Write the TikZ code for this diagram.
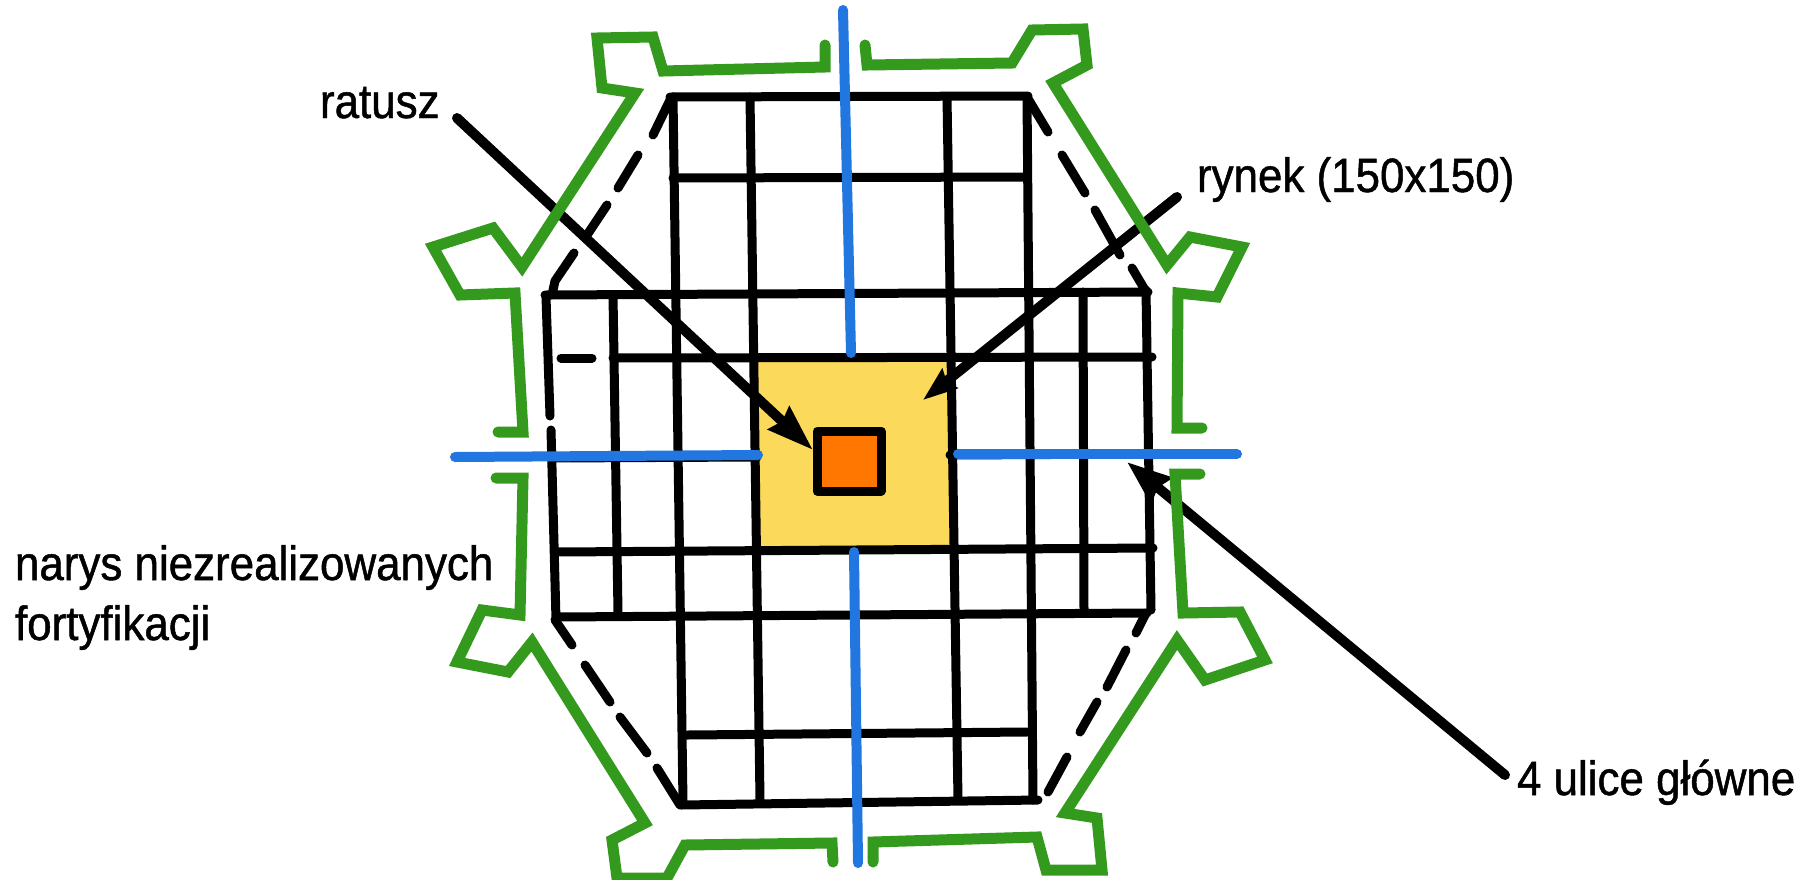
\documentclass[tikz,border=0pt]{standalone}
\usepackage{fontspec}
\setmainfont[FakeStretch=0.915,FakeBold=1]{Liberation Sans}
\usetikzlibrary{arrows.meta}
\definecolor{gr}{HTML}{339A1E}
\definecolor{bl}{HTML}{2176E0}
\definecolor{yl}{HTML}{FBD95B}
\definecolor{og}{HTML}{FF7700}
\tikzset{
  grid/.style={draw=black,line width=9pt,line cap=round,line join=round},
  dashline/.style={draw=black,line width=9pt,line cap=round,line join=round},
  wall/.style={draw=gr,line width=11pt,line cap=round,line join=miter},
  street/.style={draw=bl,line width=10pt,line cap=round},
  pointer/.style={draw=black,line width=10pt,line cap=round},
  lab/.style={font=\fontsize{48}{60}\selectfont,anchor=base west,inner sep=0pt,outer sep=0pt,text=black,align=left}
}
\begin{document}
\begin{tikzpicture}[x=1pt,y=-1pt]
\useasboundingbox (0,0) rectangle (1812,879);
\fill[white] (0,0) rectangle (1812,879);
% market square
\fill[yl] (755,358) -- (950,358) -- (955,548) -- (758,552) -- cycle;
% grid: long verticals
\draw[grid] (673,97) -- (683,803);
\draw[grid] (750,97) -- (760,800);
\draw[grid] (947,97) -- (958,800);
\draw[grid] (1027,97) -- (1033,800);
% grid: short verticals
\draw[grid] (546,297) -- (550,416);
\draw[grid] (551,430) -- (556,620);
\draw[grid] (613,295) -- (618,613);
\draw[grid] (1083,292) -- (1084,612);
\draw[grid] (1146,290) -- (1151,610);
% grid: horizontals
\draw[grid] (670,97) -- (1028,96);
\draw[grid] (673,178) -- (1027,177);
\draw[grid] (545,295) -- (1148,292);
\draw[grid] (613,358) -- (1152,357);
\draw[dashline] (561,358) -- (592,358);
\draw[grid] (551,458) -- (757,457);
\draw[grid] (950,455) -- (1148,454);
\draw[grid] (557,552) -- (1153,548);
\draw[grid] (557,617) -- (1147,613);
\draw[grid] (687,735) -- (1027,732);
\draw[grid] (681,805) -- (1038,800);
% dashed outline
\draw[dashline] (670,100) -- (653,135);
\draw[dashline] (638,155) -- (618,188);
\draw[dashline] (607,205) -- (587,235);
\draw[dashline] (574,253) -- (555,281) -- (552,295);
\draw[dashline] (1027,97) -- (1048,132);
\draw[dashline] (1062,155) -- (1085,193);
\draw[dashline] (1095,210) -- (1120,255);
\draw[dashline] (1132,268) -- (1145,290);
\draw[dashline] (555,620) -- (572,645);
\draw[dashline] (585,665) -- (610,702);
\draw[dashline] (620,717) -- (647,753);
\draw[dashline] (657,768) -- (680,805);
\draw[dashline] (1146,613) -- (1136,633);
\draw[dashline] (1126,650) -- (1107,687);
\draw[dashline] (1097,702) -- (1080,732);
\draw[dashline] (1067,757) -- (1048,792);
% town hall
\draw[black,line width=9pt,fill=og,line join=round] (817,431) rectangle (881,491);
% main streets
\draw[street] (843,10) -- (851,353);
\draw[street] (854,552) -- (858,863);
\draw[street] (455,457) -- (758,455);
\draw[street] (958,454) -- (1237,454);
% labels
\node[lab] (lratusz) at (320,118) {ratusz};
\node[lab] (lrynek) at (1197,192) {rynek (150x150)};
\node[lab] (lnarys) at (15,640) {narys niezrealizowanych\\fortyfikacji};
\node[lab] (lulice) at (1517,795) {4 ulice główne};
% pointers
\coordinate (a1) at (457,118);
\coordinate (a2) at (813,450);
\coordinate (b1) at (1177,197);
\coordinate (b2) at (923,400);
\coordinate (c1) at (1505,775);
\coordinate (c2) at (1127,462);
\draw[pointer,-{Stealth[length=46pt,width=30pt,inset=4pt]}] (a1) -- (a2);
\draw[pointer,-{Stealth[length=34pt,width=24pt,inset=4pt]}] (b1) -- (b2);
\draw[pointer,-{Stealth[length=44pt,width=32pt,inset=4pt]}] (c1) -- (c2);
% fortifications
\draw[wall] (825,45) -- (825,67) -- (663,71) -- (653,37) -- (597,38) -- (602,88) -- (635,93) -- (522,267) -- (493,228) -- (433,247) -- (460,295) -- (515,293) -- (523,432) -- (498,432);
\draw[wall] (496,478) -- (523,478) -- (520,615) -- (482,610) -- (457,662) -- (508,672) -- (532,642) -- (645,823) -- (612,840) -- (617,878) -- (667,878) -- (685,845) -- (832,843) -- (833,862);
\draw[wall] (1200,474) -- (1175,474) -- (1183,613) -- (1240,612) -- (1265,660) -- (1205,680) -- (1177,640) -- (1065,813) -- (1097,818) -- (1102,870) -- (1046,870) -- (1037,837) -- (873,842) -- (873,862);
\draw[wall] (865,45) -- (867,65) -- (1012,63) -- (1032,30) -- (1083,29) -- (1087,65) -- (1053,83) -- (1167,265) -- (1190,237) -- (1242,247) -- (1217,297) -- (1178,293) -- (1177,428) -- (1202,428);
\end{tikzpicture}
\end{document}
